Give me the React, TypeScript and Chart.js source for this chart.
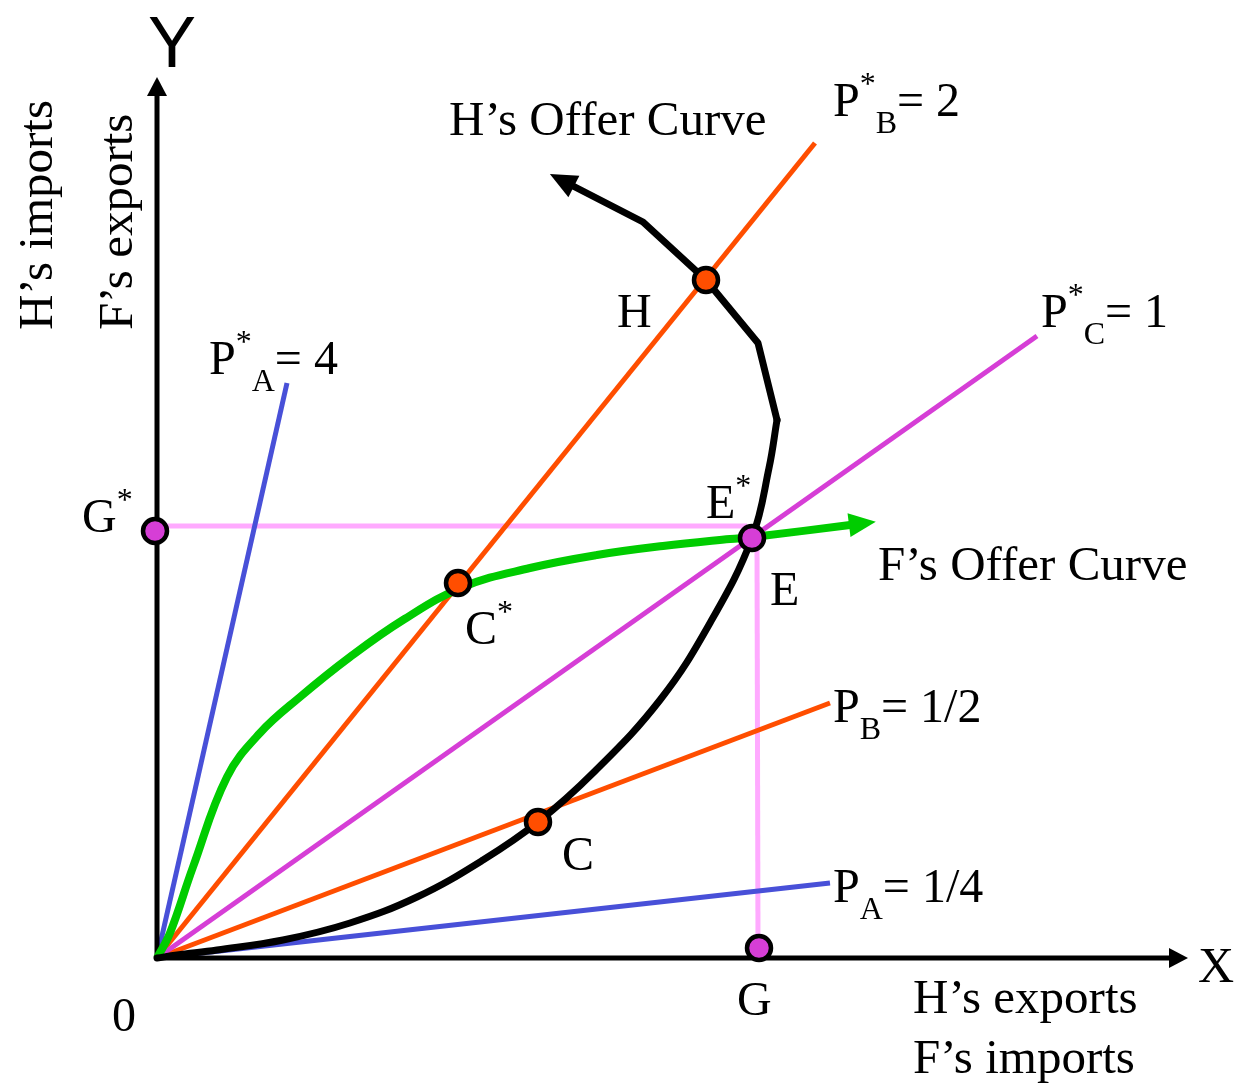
import React, { useEffect, useRef } from "react";
import { Chart, registerables } from "chart.js";

Chart.register(...registerables);

// ---- Data (x = H's exports / F's imports, y = H's imports / F's exports; origin 0) ----
const axisY = [{ x: 0, y: 0 }, { x: 0, y: 863 }];
const axisX = [{ x: 0, y: 0 }, { x: 1013, y: 0 }];

const priceAStar = [{ x: 0, y: 0 }, { x: 130, y: 575 }]; // P*A = 4
const priceA = [{ x: 0, y: 0 }, { x: 673, y: 75 }]; // PA = 1/4
const priceBStar = [{ x: 0, y: 0 }, { x: 658, y: 815 }]; // P*B = 2
const priceB = [{ x: 0, y: 0 }, { x: 673, y: 255 }]; // PB = 1/2
const priceCStar = [{ x: 0, y: 0 }, { x: 880, y: 622 }]; // P*C = 1

const guideH = [{ x: -2, y: 432 }, { x: 590, y: 432 }]; // G* -> E
const guideV = [{ x: 600, y: 413 }, { x: 601, y: 10 }]; // E -> G

const offerHLower = [
  { x: 0, y: 0 }, { x: 20, y: 3 }, { x: 60, y: 8 }, { x: 126, y: 18 },
  { x: 193, y: 35 }, { x: 260, y: 61 }, { x: 326, y: 98 }, { x: 381, y: 136 },
  { x: 436, y: 185 }, { x: 503, y: 258 }, { x: 553, y: 335 }, { x: 595, y: 420 },
  { x: 612, y: 490 }, { x: 620, y: 538 },
];
const offerHUpper = [
  { x: 620, y: 538 }, { x: 601, y: 615 }, { x: 549, y: 678 }, { x: 486, y: 736 }, { x: 416, y: 772 },
];
const offerF = [
  { x: 0, y: 0 }, { x: 13, y: 25 }, { x: 36, y: 91 }, { x: 70, y: 181 }, { x: 103, y: 225 },
  { x: 143, y: 261 }, { x: 193, y: 301 }, { x: 246, y: 338 }, { x: 306, y: 371 },
  { x: 373, y: 390 }, { x: 440, y: 403 }, { x: 506, y: 412 }, { x: 573, y: 419 },
  { x: 596, y: 421 }, { x: 693, y: 433 },
];

const orangePoints = [{ x: 549, y: 678 }, { x: 301, y: 375 }, { x: 381, y: 136 }]; // H, C*, C
const magentaPoints = [{ x: 595, y: 420 }, { x: 602, y: 10 }, { x: -2, y: 427 }]; // E, G, G*

// ---- Labels (text parts; anchor in data coordinates) ----
type Part = { t: string; sup?: boolean; sub?: boolean };
type Label = { x: number; y: number; parts: Part[]; size?: number; sans?: boolean; center?: boolean; rotate?: boolean };
const LABELS: Label[] = [
  { x: 676, y: 842, parts: [{ t: "P" }, { t: "*", sup: true }, { t: "B", sub: true }, { t: "= 2" }] },
  { x: 884, y: 631, parts: [{ t: "P" }, { t: "*", sup: true }, { t: "C", sub: true }, { t: "= 1" }] },
  { x: 52, y: 584, parts: [{ t: "P" }, { t: "*", sup: true }, { t: "A", sub: true }, { t: "= 4" }] },
  { x: 676, y: 236, parts: [{ t: "P" }, { t: "B", sub: true }, { t: "= 1/2" }] },
  { x: 676, y: 56, parts: [{ t: "P" }, { t: "A", sub: true }, { t: "= 1/4" }] },
  { x: 292, y: 823, parts: [{ t: "H’s Offer Curve" }], size: 49 },
  { x: 721, y: 378, parts: [{ t: "F’s Offer Curve" }], size: 49 },
  { x: 460, y: 631, parts: [{ t: "H" }] },
  { x: 549, y: 440, parts: [{ t: "E" }, { t: "*", sup: true }] },
  { x: 613, y: 353, parts: [{ t: "E" }] },
  { x: 308, y: 314, parts: [{ t: "C" }, { t: "*", sup: true }] },
  { x: 405, y: 88, parts: [{ t: "C" }] },
  { x: -75, y: 426, parts: [{ t: "G" }, { t: "*", sup: true }] },
  { x: 580, y: -57, parts: [{ t: "G" }] },
  { x: -45, y: -73, parts: [{ t: "0" }] },
  { x: 1041, y: -24, parts: [{ t: "X" }], size: 50 },
  { x: 756, y: -55, parts: [{ t: "H’s exports" }], size: 49 },
  { x: 756, y: -115, parts: [{ t: "F’s imports" }], size: 49 },
  { x: 15, y: 891, parts: [{ t: "Y" }], size: 72, sans: true, center: true },
  { x: -105, y: 628, parts: [{ t: "H’s imports" }], size: 49, rotate: true },
  { x: -25, y: 628, parts: [{ t: "F’s exports" }], size: 49, rotate: true },
];

const BLUE = "#4850d8";
const ORANGE = "#ff4e00";
const MAGENTA = "#d63ed6";
const GREEN = "#00cc00";
const PINK = "#ffaaff";

const SERIF = '"Liberation Serif", "Times New Roman", serif';
const SANS = '"Liberation Sans", Arial, sans-serif';

const overlayPlugin = {
  id: "overlay",
  afterDatasetsDraw(chart: any) {
    const ctx: CanvasRenderingContext2D = chart.ctx;
    const xs = chart.scales.x;
    const ys = chart.scales.y;
    const px = (v: number) => xs.getPixelForValue(v);
    const py = (v: number) => ys.getPixelForValue(v);

    // arrowheads
    chart.data.datasets.forEach((ds: any) => {
      if (!ds.arrow) return;
      const d = ds.data;
      const a = d[d.length - 2];
      const b = d[d.length - 1];
      const ax = px(a.x), ay = py(a.y), bx = px(b.x), by = py(b.y);
      const ang = Math.atan2(by - ay, bx - ax);
      const L = ds.arrow.len;
      const W = ds.arrow.w;
      ctx.save();
      ctx.translate(bx, by);
      ctx.rotate(ang);
      ctx.beginPath();
      ctx.moveTo(L, 0);
      ctx.lineTo(-1, -W / 2);
      ctx.lineTo(-1, W / 2);
      ctx.closePath();
      ctx.fillStyle = ds.borderColor;
      ctx.fill();
      ctx.restore();
    });

    // labels
    ctx.save();
    ctx.fillStyle = "#000";
    ctx.textBaseline = "alphabetic";
    for (const lb of LABELS) {
      const size = lb.size || 48;
      const small = 32;
      const fam = lb.sans ? SANS : SERIF;
      let x = px(lb.x);
      const y = py(lb.y);
      if (lb.rotate) {
        ctx.save();
        ctx.translate(x, y);
        ctx.rotate(-Math.PI / 2);
        ctx.font = `${size}px ${fam}`;
        ctx.textAlign = "left";
        ctx.fillText(lb.parts[0].t, 0, 0);
        ctx.restore();
        continue;
      }
      if (lb.center) {
        ctx.font = `${size}px ${fam}`;
        ctx.textAlign = "center";
        ctx.fillText(lb.parts[0].t, x, y);
        continue;
      }
      ctx.textAlign = "left";
      for (const p of lb.parts) {
        const s = p.sup || p.sub ? small : size;
        ctx.font = `${s}px ${fam}`;
        const dy = p.sup ? -22 : p.sub ? 17 : 0;
        ctx.fillText(p.t, x, y + dy);
        x += ctx.measureText(p.t).width;
      }
    }
    ctx.restore();
  },
};

function line(data: any[], color: string, width: number, order: number, extra: any = {}) {
  return {
    data,
    showLine: true,
    borderColor: color,
    backgroundColor: color,
    borderWidth: width,
    pointRadius: 0,
    pointHoverRadius: 0,
    fill: false,
    tension: 0,
    order,
    clip: false,
    ...extra,
  };
}

export default function App() {
  const ref = useRef<HTMLCanvasElement | null>(null);

  useEffect(() => {
    document.body.style.margin = "0";
    const canvas = ref.current;
    if (!canvas) return;
    const chart = new Chart(canvas, {
      type: "scatter",
      data: {
        datasets: [
          {
            data: orangePoints,
            showLine: false,
            pointRadius: 12,
            pointBorderWidth: 4.5,
            pointBorderColor: "#000",
            pointBackgroundColor: ORANGE,
            order: 0,
            clip: false,
          } as any,
          {
            data: magentaPoints,
            showLine: false,
            pointRadius: 12,
            pointBorderWidth: 4.5,
            pointBorderColor: "#000",
            pointBackgroundColor: MAGENTA,
            order: 0,
            clip: false,
          } as any,
          line(offerHLower, "#000", 7, 1, { tension: 0.4, borderCapStyle: "round", borderJoinStyle: "round" }),
          line(offerHUpper, "#000", 7, 1, { borderCapStyle: "round", borderJoinStyle: "round", arrow: { len: 26, w: 24 } }),
          line(offerF, GREEN, 8, 2, { tension: 0.4, borderJoinStyle: "round", arrow: { len: 26, w: 24 } }),
          line(axisY, "#000", 5, 3, { arrow: { len: 18, w: 20 } }),
          line(axisX, "#000", 5, 3, { arrow: { len: 18, w: 20 } }),
          line(priceCStar, MAGENTA, 5, 4),
          line(priceB, ORANGE, 5, 4),
          line(priceBStar, ORANGE, 5, 4),
          line(priceA, BLUE, 5, 4),
          line(priceAStar, BLUE, 5, 4),
          line(guideH, PINK, 5, 5),
          line(guideV, PINK, 5, 5),
        ],
      },
      options: {
        animation: false,
        responsive: false,
        maintainAspectRatio: false,
        layout: { padding: 0, autoPadding: false } as any,
        plugins: { legend: { display: false }, tooltip: { enabled: false } },
        events: [],
        scales: {
          x: { type: "linear", min: -157, max: 1083, display: false },
          y: { type: "linear", min: -125, max: 958, display: false },
        },
      },
      plugins: [overlayPlugin],
    });
    return () => chart.destroy();
  }, []);

  return (
    <div style={{ width: 1240, height: 1083, background: "#fff" }}>
      <canvas ref={ref} width={1240} height={1083} style={{ display: "block" }} />
    </div>
  );
}
